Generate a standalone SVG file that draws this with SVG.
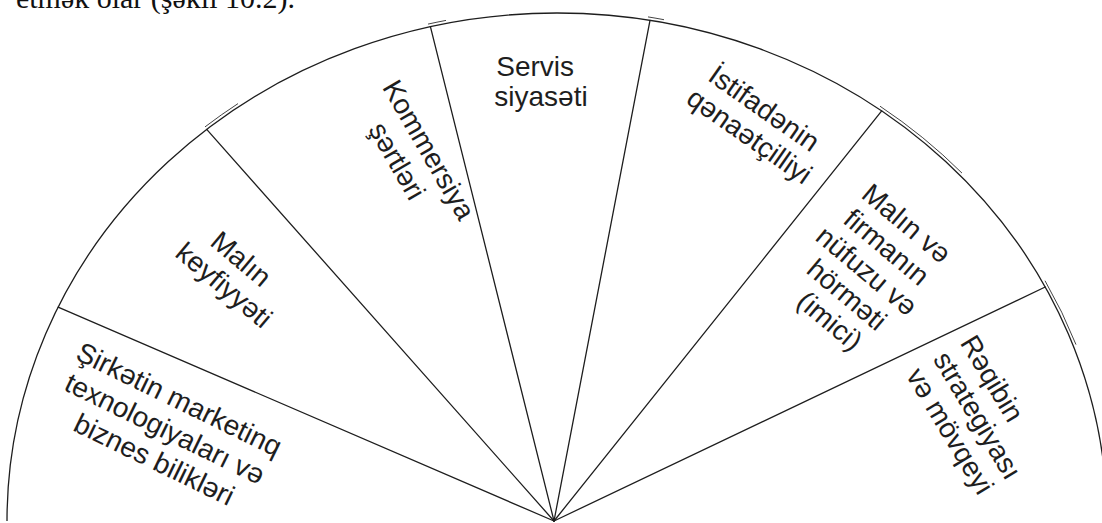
<svg xmlns="http://www.w3.org/2000/svg" width="1102" height="523" viewBox="0 0 1102 523">
  <style>
    .rim { fill: none; stroke: #1e1e1e; stroke-width: 1.3; }
    .rim2 { fill: none; stroke: #444; stroke-width: 1; }
    .spoke { fill: none; stroke: #1e1e1e; stroke-width: 1.3; stroke-linecap: round; }
    .lbl { font-family: "Liberation Sans", Arial, sans-serif; font-size: 28px; fill: #1e1e1e; text-anchor: middle; }
    .lbl-start { text-anchor: start; }
    .caption { font-family: "Liberation Serif", "Times New Roman", serif; font-size: 30px; fill: #111; text-anchor: end; }
  </style>
  <defs>
    <linearGradient id="baseFade" x1="0" y1="0" x2="1" y2="0">
      <stop offset="0" stop-color="#ffffff"/>
      <stop offset="1" stop-color="#777777"/>
    </linearGradient>
  </defs>
  <rect width="1102" height="523" fill="#ffffff"/>

  <!-- running text line above the figure -->
  <text class="caption" x="295" y="8">etmək olar (şəkil 10.2).</text>

  <!-- outer rim of the fan -->
  <g id="rim">
    <path class="rim" d="M7,521 A550,508 0 0 1 1107,521"/>
    <path class="rim2" d="M205,126.9 A553,511 0 0 1 238,103.6"/>
    <path class="rim2" d="M428,24.1 A553,511 0 0 1 446,20.4"/>
    <path class="rim2" d="M648,16.9 A553,511 0 0 1 664,19.7"/>
    <path class="rim2" d="M880,106.2 A553,511 0 0 1 962,173.1"/>
    <path class="rim2" d="M1045,280.7 A553,511 0 0 1 1076,344.6"/>
    <line x1="950" y1="522" x2="1102" y2="522" stroke="url(#baseFade)" stroke-width="1.2"/>
  </g>

  <!-- radial dividers -->
  <g id="connectors">
    <line class="spoke" x1="554" y1="521" x2="58.1" y2="307.2"/>
    <line class="spoke" x1="554" y1="521" x2="206.7" y2="129.4"/>
    <line class="spoke" x1="554" y1="521" x2="430.4" y2="26.6"/>
    <line class="spoke" x1="554" y1="521" x2="650" y2="20.3"/>
    <line class="spoke" x1="554" y1="521" x2="881.7" y2="110.9"/>
    <line class="spoke" x1="554" y1="521" x2="1045.2" y2="287"/>
  </g>

  <g id="sector-knowledge">
    <text class="lbl" transform="rotate(26)">
      <tspan x="340" y="290">Şirkətin marketinq</tspan>
      <tspan x="340" y="322.5">texnologiyaları və</tspan>
      <tspan x="340" y="355">biznes bilikləri</tspan>
    </text>
  </g>

  <g id="sector-quality">
    <text class="lbl" transform="rotate(40)">
      <tspan x="355" y="53">Malın</tspan>
      <tspan x="355" y="84">keyfiyyəti</tspan>
    </text>
  </g>

  <g id="sector-terms">
    <text class="lbl" transform="rotate(60)">
      <tspan x="348" y="-287">Kommersiya</tspan>
      <tspan x="338" y="-254">şərtləri</tspan>
    </text>
  </g>

  <g id="sector-service">
    <text class="lbl">
      <tspan x="539" y="76">Servis</tspan>
      <tspan x="541" y="106">siyasəti</tspan>
    </text>
  </g>

  <g id="sector-economy">
    <text class="lbl" transform="rotate(35)">
      <tspan x="692" y="-340">İstifadənin</tspan>
      <tspan x="692" y="-309">qənaətçilliyi</tspan>
    </text>
  </g>

  <g id="sector-image">
    <text class="lbl" transform="rotate(40)">
      <tspan x="842" y="-402">Malın və</tspan>
      <tspan x="842" y="-371">firmanın</tspan>
      <tspan x="842" y="-340">nüfuzu və</tspan>
      <tspan x="842" y="-309">hörməti</tspan>
      <tspan x="842" y="-278">(imici)</tspan>
    </text>
  </g>

  <g id="sector-competitor">
    <text class="lbl lbl-start" transform="rotate(59)">
      <tspan x="788" y="-646">Rəqibin</tspan>
      <tspan x="788" y="-614.5">strategiyası</tspan>
      <tspan x="788" y="-583">və mövqeyi</tspan>
    </text>
  </g>
</svg>
